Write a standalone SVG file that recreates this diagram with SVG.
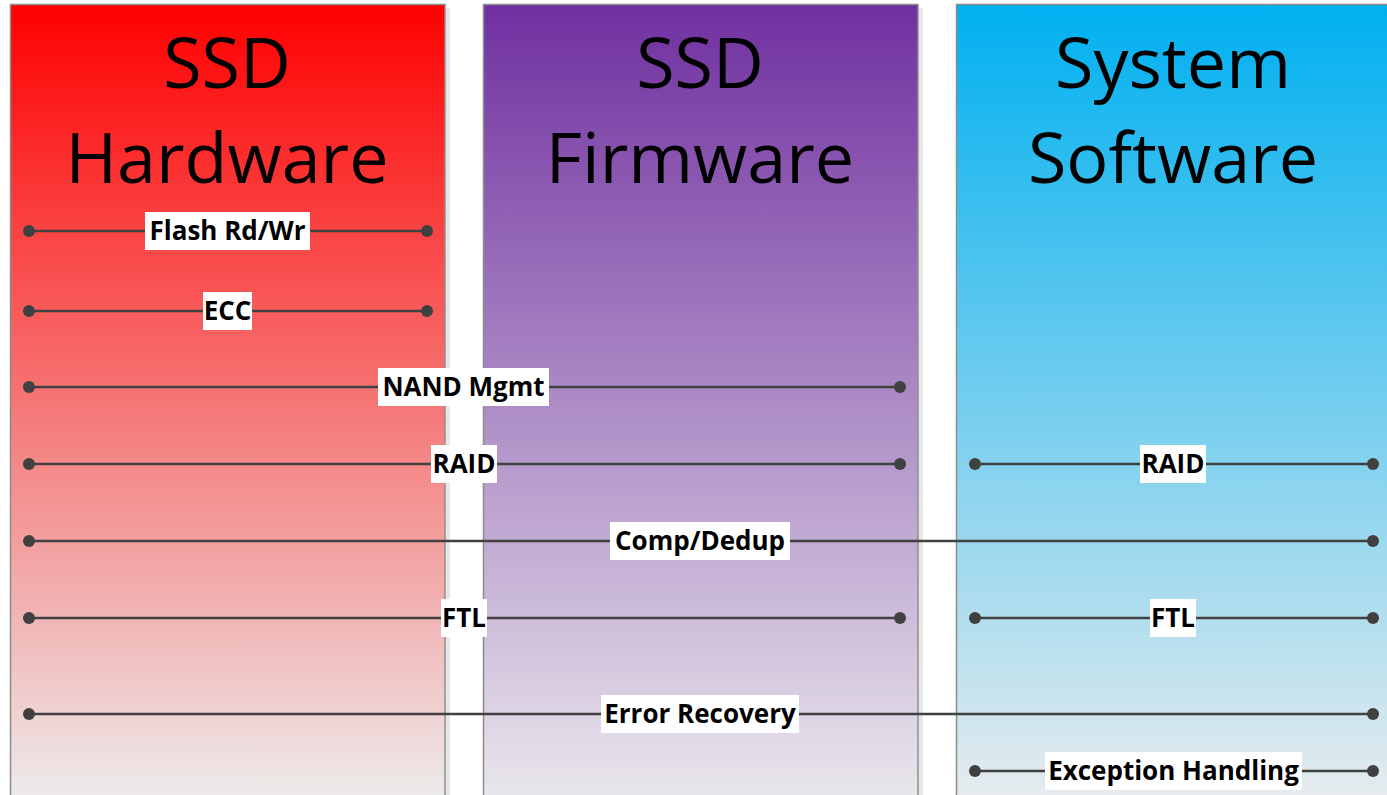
<svg xmlns="http://www.w3.org/2000/svg" width="1387" height="795" viewBox="0 0 1387 795">
  <defs>
    <linearGradient id="gHw" x1="0" y1="0" x2="0" y2="1">
      <stop offset="0" stop-color="#FF0000"/>
      <stop offset="1" stop-color="#EDEDED"/>
    </linearGradient>
    <linearGradient id="gFw" x1="0" y1="0" x2="0" y2="1">
      <stop offset="0" stop-color="#7030A0"/>
      <stop offset="1" stop-color="#EAE8EC"/>
    </linearGradient>
    <linearGradient id="gSw" x1="0" y1="0" x2="0" y2="1">
      <stop offset="0" stop-color="#00B0F0"/>
      <stop offset="1" stop-color="#E8ECEE"/>
    </linearGradient>
    <marker id="dot" viewBox="0 0 12 12" refX="6" refY="6" markerWidth="12" markerHeight="12" markerUnits="userSpaceOnUse">
      <circle cx="6" cy="6" r="6" fill="#404040"/>
    </marker>
  </defs>
  <style>
    .col { stroke: #8C8C8C; stroke-width: 1.5; }
    .shadow { fill: #E6E6E6; }
    .title { font-family: "Open Sans", "Noto Sans", sans-serif; font-size: 70px; fill: #000; text-anchor: middle; }
    .link { stroke: #404040; stroke-width: 2.4; fill: none; marker-start: url(#dot); marker-end: url(#dot); }
    .lblbox { fill: #FFFFFF; }
    .lbl { font-family: "Open Sans", "Noto Sans", sans-serif; font-weight: bold; font-size: 26px; fill: #000; text-anchor: middle; }
  </style>
  <rect width="1387" height="795" fill="#FFFFFF"/>

  <!-- layer columns -->
  <g id="col-hardware">
    <rect class="shadow" x="446" y="8" width="4" height="795"/>
    <rect class="col" x="10.5" y="4.5" width="434.5" height="800" fill="url(#gHw)"/>
    <text class="title" x="227" y="88">SSD</text>
    <text class="title" x="227" y="183">Hardware</text>
  </g>
  <g id="col-firmware">
    <rect class="shadow" x="919" y="8" width="4" height="795"/>
    <rect class="col" x="483.5" y="4.5" width="434.5" height="800" fill="url(#gFw)"/>
    <text class="title" x="700" y="88">SSD</text>
    <text class="title" x="700" y="183">Firmware</text>
  </g>
  <g id="col-software">
    <rect class="col" x="956.5" y="4.5" width="440" height="800" fill="url(#gSw)"/>
    <text class="title" x="1173" y="88">System</text>
    <text class="title" x="1173" y="183">Software</text>
  </g>

  <!-- function spans -->
  <g id="connectors">
    <line class="link" x1="29" y1="231" x2="427" y2="231"/>
    <line class="link" x1="29" y1="311" x2="427" y2="311"/>
    <line class="link" x1="29" y1="387" x2="900" y2="387"/>
    <line class="link" x1="29" y1="464" x2="900" y2="464"/>
    <line class="link" x1="975" y1="464" x2="1373" y2="464"/>
    <line class="link" x1="29" y1="541" x2="1373" y2="541"/>
    <line class="link" x1="29" y1="618" x2="900" y2="618"/>
    <line class="link" x1="975" y1="618" x2="1373" y2="618"/>
    <line class="link" x1="29" y1="714" x2="1373" y2="714"/>
    <line class="link" x1="975" y1="771" x2="1373" y2="771"/>
  </g>

  <!-- span labels -->
  <g id="lbl-flash">
    <rect class="lblbox" x="145" y="212" width="165" height="38"/>
    <text class="lbl" x="227.5" y="240">Flash Rd/Wr</text>
  </g>
  <g id="lbl-ecc">
    <rect class="lblbox" x="203" y="292" width="49" height="38"/>
    <text class="lbl" x="227.5" y="320">ECC</text>
  </g>
  <g id="lbl-nand">
    <rect class="lblbox" x="378" y="368" width="171" height="38"/>
    <text class="lbl" x="463.5" y="396">NAND Mgmt</text>
  </g>
  <g id="lbl-raid-fw">
    <rect class="lblbox" x="431" y="445" width="66" height="38"/>
    <text class="lbl" x="464" y="473">RAID</text>
  </g>
  <g id="lbl-raid-sw">
    <rect class="lblbox" x="1140" y="445" width="66" height="38"/>
    <text class="lbl" x="1173" y="473">RAID</text>
  </g>
  <g id="lbl-comp">
    <rect class="lblbox" x="610" y="522" width="180" height="38"/>
    <text class="lbl" x="700" y="550">Comp/Dedup</text>
  </g>
  <g id="lbl-ftl-fw">
    <rect class="lblbox" x="441" y="599" width="46" height="38"/>
    <text class="lbl" x="464" y="627">FTL</text>
  </g>
  <g id="lbl-ftl-sw">
    <rect class="lblbox" x="1150" y="599" width="46" height="38"/>
    <text class="lbl" x="1173" y="627">FTL</text>
  </g>
  <g id="lbl-error">
    <rect class="lblbox" x="601" y="695" width="198" height="38"/>
    <text class="lbl" x="700" y="723">Error Recovery</text>
  </g>
  <g id="lbl-exception">
    <rect class="lblbox" x="1045" y="752" width="257" height="38"/>
    <text class="lbl" x="1173.5" y="780">Exception Handling</text>
  </g>
</svg>
